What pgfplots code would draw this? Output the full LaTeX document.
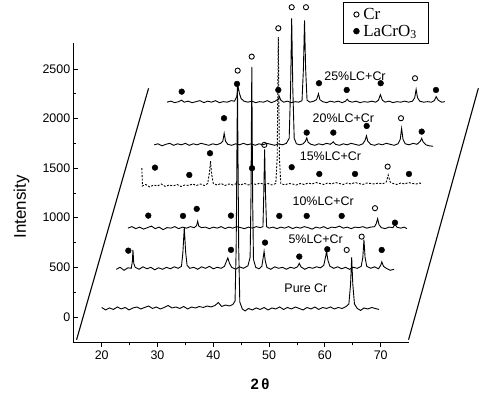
\documentclass[border=0pt]{standalone}
\usepackage{fontspec}
\setmainfont{Liberation Sans}
\newfontfamily\seriffont{Liberation Serif}
\usepackage{pgfplots}
\pgfplotsset{compat=1.18}

% traces are stored (already offset)
\pgfplotstableread{
x y
20.0 95
20.7 70
21.4 90
22.1 75
22.8 100
23.5 80
24.2 95
24.9 70
25.6 90
26.3 100
27.0 80
27.7 95
28.4 110
29.1 85
29.8 100
30.5 80
31.2 95
31.9 115
32.6 90
33.3 100
34.0 85
34.7 105
35.4 80
36.1 100
36.8 90
37.5 105
38.2 95
38.9 110
39.6 100
40.3 115
40.9 145
41.5 105
42.2 120
42.9 110
43.5 125
43.9 160
44.1 700
44.33 2330
44.55 700
44.75 150
45.2 80
45.7 60
46.3 85
47.0 70
47.7 90
48.4 75
49.1 95
49.8 70
50.5 90
51.2 80
51.9 100
52.6 75
53.3 95
54.0 80
54.7 100
55.4 85
56.1 70
56.8 95
57.5 80
58.2 100
58.9 75
59.6 95
60.3 85
61.0 100
61.7 80
62.4 95
63.1 85
63.8 105
64.3 130
64.6 330
64.8 600
65.0 330
65.3 130
65.8 85
66.4 65
67.0 90
67.7 80
68.4 95
69.0 85
69.7 75
}\purecr

\pgfplotstableread{
x y
22.6 480
23.3 500
24.0 470
24.7 495
25.3 490
25.5 560
25.6 675
25.75 540
26.0 500
26.7 480
27.4 505
28.1 485
28.8 500
29.5 475
30.2 495
30.9 480
31.6 500
32.3 485
33.0 505
33.7 490
34.3 510
34.55 650
34.8 900
35.05 650
35.3 520
35.8 490
36.5 500
37.2 480
37.9 505
38.6 490
39.3 510
40.0 485
40.7 500
41.4 490
42.0 510
42.35 560
42.6 595
42.9 540
43.3 500
44.0 480
44.7 505
45.4 490
46.2 515
46.6 600
46.75 1200
46.9 2520
47.05 1200
47.2 580
47.6 500
48.2 485
48.7 510
48.95 600
49.1 660
49.3 570
49.6 500
50.3 480
51.0 505
51.7 490
52.4 500
53.1 480
53.8 500
54.5 490
55.1 505
55.4 540
55.7 505
56.4 480
57.1 500
57.8 490
58.5 505
59.2 495
59.8 520
60.1 600
60.3 658
60.55 570
60.9 510
61.6 490
62.3 505
63.0 485
63.7 500
64.4 480
65.1 500
65.8 490
66.5 510
66.8 600
67.0 780
67.2 600
67.5 510
68.2 490
68.9 505
69.6 485
70.0 520
70.2 555
70.5 510
71.0 490
71.7 470
72.4 480
}\lcfive

\pgfplotstableread{
x y
24.7 895
25.4 910
26.1 890
26.8 905
27.5 885
28.2 900
28.9 915
29.6 890
30.3 905
31.0 880
31.7 900
32.4 895
33.1 910
33.8 890
34.5 905
35.2 895
35.9 910
36.6 900
37.0 920
37.2 965
37.4 915
37.9 900
38.6 905
39.3 890
40.0 905
40.7 895
41.4 910
42.1 890
42.8 905
43.5 895
44.2 910
44.9 900
45.6 890
46.3 905
47.0 895
47.7 910
48.4 900
48.9 910
49.05 1250
49.2 1690
49.35 1250
49.55 910
50.0 895
50.7 905
51.4 890
52.1 905
52.8 895
53.5 910
54.2 890
54.9 905
55.6 895
56.3 910
57.0 900
57.7 885
58.4 905
59.1 895
59.8 910
60.5 890
61.2 905
61.9 900
62.6 915
63.3 895
64.0 905
64.7 890
65.4 905
66.1 900
66.8 910
67.5 895
68.2 905
68.9 910
69.2 940
69.45 990
69.7 930
70.1 900
70.8 890
71.5 905
72.2 900
72.55 935
72.9 905
73.6 895
74.2 905
74.7 890
}\lcten

\pgfplotstableread{
x y
27.2 1500
27.3 1320
27.9 1335
28.6 1310
29.3 1330
30.0 1320
30.7 1340
31.4 1315
32.1 1330
32.8 1320
33.5 1335
34.2 1315
34.9 1330
35.6 1325
36.3 1340
37.0 1325
37.7 1340
38.4 1325
39.0 1345
39.3 1450
39.5 1570
39.7 1440
40.0 1345
40.7 1330
41.4 1345
42.1 1325
42.8 1340
43.5 1330
44.2 1345
44.9 1330
45.6 1345
46.3 1330
47.0 1345
47.7 1335
48.4 1350
49.1 1335
49.8 1345
50.5 1330
51.2 1345
51.45 1600
51.65 2820
51.85 1600
52.1 1345
52.8 1330
53.5 1345
54.2 1340
54.9 1330
55.6 1345
56.3 1335
57.0 1350
57.7 1340
58.4 1355
59.1 1345
59.8 1335
60.5 1350
61.2 1340
61.9 1355
62.6 1345
63.3 1335
64.0 1350
64.7 1340
65.4 1355
66.1 1345
66.8 1335
67.5 1350
68.2 1345
68.9 1340
69.6 1350
70.3 1340
71.0 1360
71.35 1430
71.7 1360
72.2 1345
72.9 1335
73.6 1350
74.3 1340
75.0 1355
75.7 1345
76.4 1340
77.0 1350
77.4 1340
}\lcfifteen

\pgfplotstableread{
x y
29.4 1735
30.1 1745
30.8 1725
31.5 1740
32.2 1750
32.9 1730
33.6 1745
34.3 1735
35.0 1750
35.7 1730
36.4 1745
37.1 1735
37.8 1750
38.5 1740
39.2 1730
39.9 1745
40.6 1735
41.3 1750
41.7 1770
41.95 1850
42.2 1770
42.6 1740
43.3 1730
44.0 1745
44.7 1735
45.4 1750
46.1 1735
46.8 1745
47.5 1730
48.2 1745
48.9 1735
49.6 1750
50.3 1740
51.0 1730
51.7 1745
52.4 1735
53.1 1750
53.6 1800
53.85 2300
54.05 3010
54.25 2300
54.5 1800
54.9 1745
55.5 1735
56.1 1745
56.5 1770
56.75 1805
57.0 1760
57.5 1740
58.2 1730
58.9 1745
59.6 1735
60.3 1750
61.0 1740
61.5 1765
61.9 1740
62.6 1730
63.3 1745
64.0 1735
64.7 1750
65.4 1740
66.1 1730
66.8 1745
67.2 1780
67.45 1825
67.7 1770
68.2 1740
68.9 1730
69.6 1745
70.3 1735
71.0 1750
71.7 1740
72.4 1730
73.1 1745
73.5 1790
73.75 1900
74.0 1790
74.4 1745
75.1 1735
75.8 1750
76.5 1740
77.1 1770
77.35 1800
77.6 1765
78.1 1735
78.7 1725
79.4 1720
}\lctwenty

\pgfplotstableread{
x y
31.7 2165
32.4 2175
33.1 2160
33.8 2170
34.3 2185
34.8 2165
35.5 2175
36.2 2160
36.9 2170
37.6 2180
38.3 2160
39.0 2175
39.7 2165
40.4 2180
41.1 2160
41.8 2170
42.5 2165
43.2 2180
43.8 2175
44.2 2220
44.45 2320
44.7 2250
45.0 2200
45.5 2175
46.2 2165
46.9 2175
47.6 2160
48.3 2170
49.0 2165
49.7 2180
50.4 2160
51.1 2175
51.6 2195
51.85 2220
52.1 2185
52.6 2165
53.3 2175
54.0 2160
54.7 2170
55.3 2165
55.9 2180
56.15 2500
56.35 2990
56.55 2500
56.8 2185
57.3 2165
58.0 2175
58.5 2190
58.85 2250
59.1 2190
59.6 2170
60.3 2160
61.0 2175
61.7 2165
62.4 2175
63.1 2160
63.7 2175
64.0 2195
64.3 2175
64.9 2165
65.6 2175
66.3 2160
67.0 2170
67.7 2165
68.4 2175
69.1 2165
69.6 2185
69.95 2240
70.3 2185
70.8 2165
71.5 2175
72.2 2160
72.9 2170
73.6 2165
74.3 2175
75.0 2165
75.7 2175
76.1 2210
76.35 2295
76.6 2210
77.0 2175
77.7 2165
78.4 2170
79.1 2165
79.6 2180
79.95 2220
80.3 2185
80.9 2165
81.5 2170
}\lctwentyfive

\begin{document}
\begin{tikzpicture}
\begin{axis}[
  x=5.58bp, y=0.0992bp,
  xmin=15, xmax=75, ymin=-262, ymax=2762,
  axis x line*=bottom, axis y line*=left,
  axis line style={line width=1pt, -},
  xtick={20,30,...,70}, ytick={0,500,...,2500},
  minor x tick num=1, minor y tick num=1,
  xtick align=outside, ytick align=inside,
  major tick length=4pt, minor tick length=2.5pt,
  every tick/.style={line width=0.8pt, black},
  /pgf/number format/assume math mode=true,
  /pgf/number format/1000 sep={},
  ticklabel style={font=\fontsize{12.5}{14}\selectfont},
  xlabel={2\,θ},
  xlabel style={at={(axis description cs:0.556,-0.136)}, anchor=center,
    font=\bfseries\fontsize{15}{17}\selectfont},
  ylabel={Intensity},
  ylabel style={at={(axis description cs:-0.156,0.453)}, anchor=center,
    font=\fontsize{17}{19}\selectfont},
  clip=false,
  legend style={at={(axis description cs:0.805,1.137)}, anchor=north west,
    draw=black, line width=0.6pt, font=\seriffont\fontsize{17}{19}\selectfont,
    inner xsep=10pt, inner ysep=4pt, row sep=0pt,
    /tikz/every odd column/.append style={column sep=2pt}},
  legend cell align=left,
]
% invisible frame: keeps the page at the reference's proportions
\path (axis cs:1.774,3195) rectangle (axis cs:89.59,-907);

% slanted sides of the stack
\addplot[black, line width=1.1pt, forget plot] coordinates {(15.5,-230) (28.4,2305)};
\addplot[black, line width=1.1pt, forget plot] coordinates {(75.0,-230) (87.5,2305)};

\addplot[black, line width=0.9pt, forget plot] table {\purecr};
\addplot[black, line width=0.9pt, forget plot] table {\lcfive};
\addplot[black, line width=0.9pt, forget plot] table {\lcten};
\addplot[black, line width=0.9pt, dash pattern=on 2pt off 1.5pt, forget plot] table {\lcfifteen};
\addplot[black, line width=0.9pt, forget plot] table {\lctwenty};
\addplot[black, line width=0.9pt, forget plot] table {\lctwentyfive};

% phase markers
\addplot[only marks, mark=o, mark size=2.6pt, mark options={line width=0.9pt, black}] coordinates {
  (44.37,2483) (46.88,2624) (51.65,2910) (54.05,3122) (56.61,3122) (49.14,1734)
  (63.91,675) (66.59,809) (68.98,1096) (71.25,1515) (73.64,2003) (76.15,2406)
};
\addlegendentry{Cr}
\addplot[only marks, mark=*, mark size=2.9pt, mark options={black}] coordinates {
  (34.34,2271) (44.25,2349) (51.65,2288) (58.94,2356) (63.91,2288) (70.0,2356) (79.91,2288)
  (41.92,2003) (56.74,1858) (61.51,1858) (67.49,1925) (77.35,1868)
  (29.55,1505) (35.7,1431) (39.41,1650) (46.94,1499) (54.05,1509) (59.0,1441) (65.4,1441) (75.07,1441)
  (28.35,1021) (34.57,1018) (37.03,1089) (43.17,1021) (51.83,1018) (56.74,1018) (63.01,1018) (72.56,950)
  (24.77,668) (43.17,676) (49.27,749) (55.41,608) (60.43,682) (70.18,675)
};
\addlegendentry{LaCrO\textsubscript{3}}

\node[font=\fontsize{12.5}{14}\selectfont] at (axis cs:65.4,2422) {25\%LC+Cr};
\node[font=\fontsize{12.5}{14}\selectfont] at (axis cs:63.3,2003) {20\%LC+Cr};
\node[font=\fontsize{12.5}{14}\selectfont] at (axis cs:61.0,1616) {15\%LC+Cr};
\node[font=\fontsize{12.5}{14}\selectfont] at (axis cs:59.7,1169) {10\%LC+Cr};
\node[font=\fontsize{12.5}{14}\selectfont] at (axis cs:58.35,786) {5\%LC+Cr};
\node[font=\fontsize{12.5}{14}\selectfont] at (axis cs:56.6,289) {Pure Cr};
\end{axis}
\end{tikzpicture}
\end{document}
